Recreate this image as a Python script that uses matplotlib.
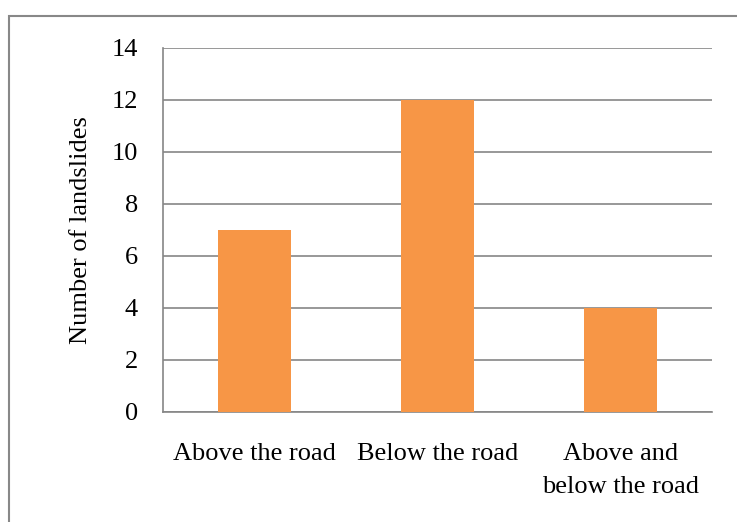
import matplotlib.pyplot as plt
from matplotlib.patches import Rectangle

categories = ["Above the road", "Below the road", "Above and\nbelow the road"]
landslides = [7, 12, 4]
yticks = [0, 2, 4, 6, 8, 10, 12, 14]

plt.rcParams['font.family'] = ['Liberation Serif', 'DejaVu Serif']

fig = plt.figure(figsize=(7.37, 5.22), dpi=100)
ax = fig.add_axes([163/737, 1-412/522, (712-163)/737, (412-48)/522])

# marco exterior del gráfico (se sale por la derecha y por abajo)
fig.patches.append(Rectangle((8.5/737, -0.1), 1.2, 1.1-16/522, transform=fig.transFigure,
                             fill=False, edgecolor="#888888", linewidth=1.5))

x = range(len(categories))
ax.bar(x, landslides, width=0.4, color="#F79646", zorder=3)
ax.set_xlim(-0.5, 2.5)
ax.set_ylim(0, 14)
ax.set_yticks(yticks)
ax.set_xticks(list(x))
ax.set_xticklabels(categories, fontsize=19, linespacing=1.7)
ax.tick_params(axis='y', labelsize=19, length=0, pad=18)
ax.tick_params(axis='x', length=0, pad=22)
ax.set_ylabel("Number of landslides", fontsize=19, labelpad=14)

ax.grid(axis='y', color="#868686", linewidth=1.2, zorder=0)
for s in ["top", "right"]:
    ax.spines[s].set_visible(False)
ax.spines["left"].set_color("#868686")
ax.spines["bottom"].set_color("#868686")
ax.spines["left"].set_linewidth(1.2)
ax.spines["bottom"].set_linewidth(1.2)

fig.savefig("out.png", dpi=100)
